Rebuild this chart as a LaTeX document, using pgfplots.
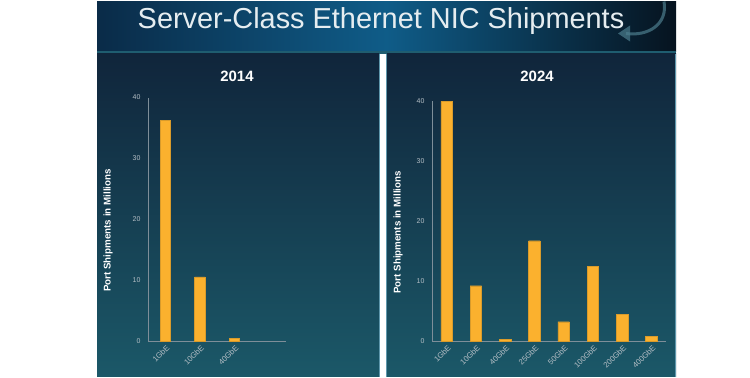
\documentclass[border=0pt]{standalone}
\usepackage{pgfplots}
\pgfplotsset{compat=1.18}
\usepackage{fontspec}
\setmainfont{Liberation Sans}
\definecolor{barfill}{HTML}{FBB12E}
\definecolor{barline}{HTML}{D99B2B}
\definecolor{paneltop}{HTML}{10253B}
\definecolor{panelbot}{HTML}{1B5868}
\definecolor{ticktxt}{HTML}{B4BEC5}
\definecolor{axline}{HTML}{7E8E99}
\definecolor{hdrL}{HTML}{0A2B48}
\definecolor{hdrM}{HTML}{0F5C88}
\definecolor{hdrR}{HTML}{06131F}
\definecolor{hdrline}{HTML}{1F5D70}
\definecolor{edge}{HTML}{5E97AC}
\definecolor{titletxt}{HTML}{E6EDF0}
\pgfplotsset{
  panel/.style={
    scale only axis,
    /pgf/number format/assume math mode=true,
    ymin=0, ymax=40,
    ytick={0,10,20,30,40},
    axis lines*=left,
    axis line style={axline,-},
    major tick length=0pt,
    ybar,
    tick label style={font=\fontsize{7}{8}\selectfont, text=ticktxt},
    yticklabel style={xshift=-4bp},
    xticklabel style={rotate=45, anchor=north east, font=\fontsize{7.8}{9}\selectfont, yshift=-1bp, inner sep=1.5bp},
    xtick=data,
    ylabel={Port Shipments in Millions},
    ylabel style={font=\bfseries\fontsize{9.8}{11}\selectfont, text=white, anchor=center},
  }
}
\begin{document}
\begin{tikzpicture}[x=1bp,y=1bp]
\fill[white] (0,0) rectangle (750,375);
% header
\shade[left color=hdrL, right color=hdrR, middle color=hdrM] (97,325) rectangle (676,375);
\fill[hdrline] (97,323) rectangle (676,326);
\draw[hdrline!80!white, line width=3bp, opacity=0.7] (664,375) .. controls (668,352) and (648,340) .. (626,343);
\fill[hdrline!80!white, opacity=0.7] (618,343) -- (630,351) -- (630,335) -- cycle;
\node[anchor=base, text=titletxt, font=\fontsize{29}{32}\selectfont] at (381,348) {Server-Class Ethernet NIC Shipments};
% panels
\shade[top color=paneltop, bottom color=panelbot] (97,0) rectangle (379,323);
\shade[top color=paneltop, bottom color=panelbot] (387,0) rectangle (676,323);
\draw[edge, line width=1bp] (379.5,0) -- (379.5,323);
\draw[edge, line width=1bp] (386.5,0) -- (386.5,323);
\draw[edge, line width=1.2bp] (675.5,0) -- (675.5,323);
\node[text=white, font=\bfseries\fontsize{15}{17}\selectfont] at (237,300) {2014};
\node[text=white, font=\bfseries\fontsize{15}{17}\selectfont] at (537,300) {2024};
% left axis
\begin{axis}[panel,
  at={(148bp,35bp)}, anchor=south west,
  width=138bp, height=244bp,
  xmin=-0.5, xmax=3.5,
  xticklabels={1GbE,10GbE,40GbE},
  ylabel style={at={(axis description cs:0,0.455)}, yshift=40bp},
  bar width=10.5bp]
\addplot[fill=barfill, draw=barline, line width=0.4pt] coordinates {(0,36.3) (1,10.6) (2,0.5)};
\end{axis}
% right axis
\begin{axis}[panel,
  at={(432bp,35bp)}, anchor=south west,
  width=234bp, height=240bp,
  xmin=-0.5, xmax=7.5,
  xticklabels={1GbE,10GbE,40GbE,25GbE,50GbE,100GbE,200GbE,400GbE},
  ylabel style={at={(axis description cs:0,0.455)}, yshift=34bp},
  bar width=11.5bp]
\addplot[fill=barfill, draw=barline, line width=0.4pt] coordinates {(0,40.0) (1,9.3) (2,0.4) (3,16.8) (4,3.3) (5,12.5) (6,4.5) (7,0.9)};
\end{axis}
\end{tikzpicture}
\end{document}
